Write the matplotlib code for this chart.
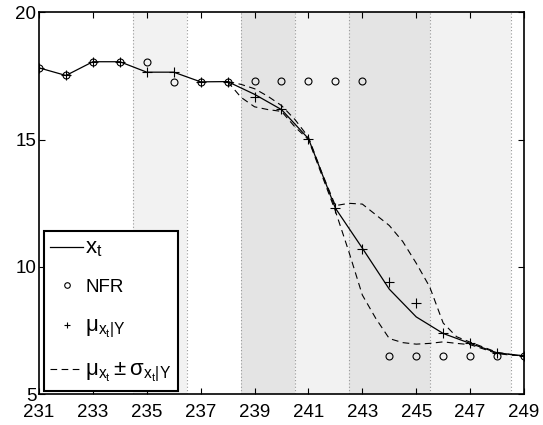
import matplotlib
matplotlib.use('Agg')
import matplotlib.pyplot as plt
import numpy as np
from matplotlib.lines import Line2D

plt.rcParams['font.family'] = ['Liberation Sans', 'DejaVu Sans']
plt.rcParams['mathtext.fontset'] = 'custom'
plt.rcParams['mathtext.rm'] = 'Liberation Sans'
plt.rcParams['mathtext.it'] = 'Liberation Sans'
plt.rcParams['mathtext.default'] = 'rm'

# --- data ---
t = np.arange(231, 250)
x_true = [17.82, 17.52, 18.06, 18.06, 17.65, 17.65, 17.27, 17.28, 16.78, 16.18,
          15.04, 12.31, 10.74, 9.13, 8.04, 7.39, 7.00, 6.63, 6.51]
nfr = [17.82, 17.52, 18.06, 18.06, 18.06, 17.27, 17.27, 17.28, 17.30, 17.30,
       17.30, 17.30, 17.30, 6.51, 6.51, 6.51, 6.51, 6.51, 6.51]
mu = [17.82, 17.52, 18.06, 18.06, 17.65, 17.65, 17.27, 17.28, 16.68, 16.20,
      15.04, 12.30, 10.71, 9.40, 8.57, 7.39, 7.00, 6.63, 6.51]

t_band = np.arange(238, 249.01, 0.5)
band_upper = [17.28, 17.17, 17.00, 16.70, 16.34, 15.79, 15.10, 13.70, 12.41, 12.50,
              12.47, 12.05, 11.63, 11.00, 10.15, 9.22, 7.80, 7.26, 7.05, 6.85,
              6.65, 6.56, 6.51]
band_lower = [17.28, 16.66, 16.29, 16.18, 16.11, 15.50, 15.00, 13.60, 12.20, 10.60,
              8.90, 7.98, 7.19, 7.03, 6.97, 7.00, 7.06, 7.00, 6.95, 6.78,
              6.60, 6.54, 6.51]

# shaded intervals: (start, end, shade)
spans = [(234.5, 236.5, '#f2f2f2'), (238.5, 240.5, '#e4e4e4'),
         (240.5, 242.5, '#f2f2f2'), (242.5, 245.5, '#e4e4e4'),
         (245.5, 248.5, '#f2f2f2')]
boundaries = [234.5, 236.5, 238.5, 240.5, 242.5, 245.5, 248.5]

fig = plt.figure(figsize=(5.43, 4.25), dpi=100)
ax = fig.add_axes([0.0718, 0.0722, 0.8932, 0.8988])

for a, b, c in spans:
    ax.axvspan(a, b, facecolor=c, edgecolor='none', zorder=0)
for xb in boundaries:
    ax.axvline(xb, color='#999999', linestyle=(0, (1, 2)), linewidth=0.8, zorder=1)

dash = (0, (6, 4))
ax.plot(t_band, band_upper, color='black', linestyle=dash, linewidth=0.8, zorder=2)
ax.plot(t_band, band_lower, color='black', linestyle=dash, linewidth=0.8, zorder=2)
ax.plot(t, x_true, color='black', linewidth=0.9, zorder=3)
ax.plot(t, nfr, linestyle='none', marker='o', markersize=5, markerfacecolor='none',
        markeredgecolor='black', markeredgewidth=0.8, zorder=4)
ax.plot(t, mu, linestyle='none', marker='+', markersize=6.5, color='black',
        markeredgewidth=0.8, zorder=4)

ax.set_xlim(231, 249)
ax.set_ylim(5, 20)
ax.set_xticks(np.arange(231, 250, 2))
ax.set_yticks([5, 10, 15, 20])
ax.tick_params(direction='in', length=4, width=0.8, top=True, right=True,
               labelsize=13.5, pad=2)
ax.tick_params(axis='x', pad=7)
for s in ax.spines.values():
    s.set_linewidth(1.2)

handles = [
    Line2D([], [], color='black', linewidth=0.9),
    Line2D([], [], linestyle='none', marker='o', markersize=4, markerfacecolor='none',
           markeredgecolor='black', markeredgewidth=0.8),
    Line2D([], [], linestyle='none', marker='+', markersize=4, color='black',
           markeredgewidth=0.8),
    Line2D([], [], color='black', linestyle=dash, linewidth=0.8),
]
labels = [r'$x_t$', 'NFR', r'$\mu_{x_t|Y}$', r'$\mu_{x_t} \pm \sigma_{x_t|Y}$']
leg = ax.legend(handles, labels, loc='lower left', bbox_to_anchor=(0.01, 0.009),
                fontsize=13.5, frameon=True, fancybox=False, framealpha=1,
                edgecolor='black', handlelength=1.75, handletextpad=0.1,
                labelspacing=1.05, borderpad=0.35, borderaxespad=0)
leg.get_frame().set_linewidth(1.5)
for i in (0, 2, 3):
    leg.get_texts()[i].set_fontsize(16)

fig.savefig('out.png', dpi=100)
